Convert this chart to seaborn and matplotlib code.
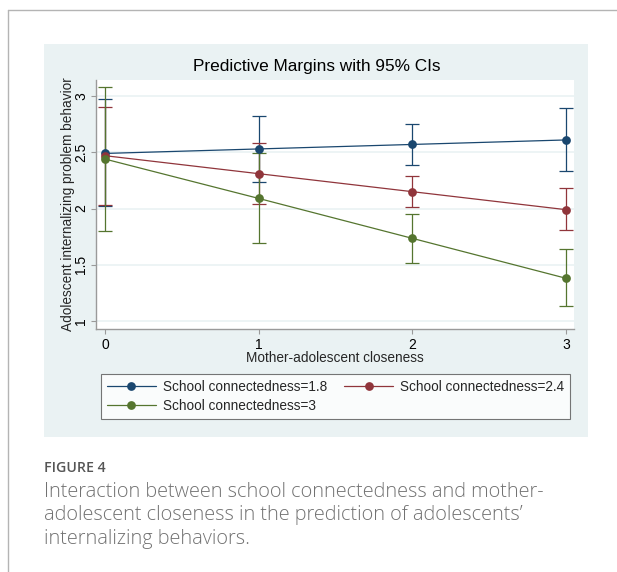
"""
Predictive margins plot (Stata-style) of adolescent internalizing
problem behavior by mother-adolescent closeness, for three levels
of school connectedness, with 95% confidence intervals.
"""
import pandas as pd
import seaborn as sns
import matplotlib.pyplot as plt
from matplotlib.lines import Line2D
from matplotlib.patches import Rectangle

# values
closeness = [0, 1, 2, 3]
groups = ['School connectedness=1.8', 'School connectedness=2.4',
          'School connectedness=3']
margin_18 = [2.49, 2.53, 2.57, 2.61]
lower_18 = [2.02, 2.24, 2.39, 2.33]
upper_18 = [2.97, 2.82, 2.75, 2.89]
margin_24 = [2.47, 2.31, 2.15, 1.99]
lower_24 = [2.03, 2.04, 2.01, 1.81]
upper_24 = [2.90, 2.58, 2.29, 2.18]
margin_30 = [2.44, 2.09, 1.735, 1.38]
lower_30 = [1.80, 1.69, 1.52, 1.13]
upper_30 = [3.08, 2.49, 1.95, 1.64]
y_ticks = [1, 1.5, 2, 2.5, 3]
y_tick_labels = ['1', '1.5', '2', '2.5', '3']
colors = ['#1a476f', '#90353b', '#55752f']

W, H = 617, 572
PANEL = '#eaf2f3'


def fx(px):
    return px / W


def fy(py):
    return 1 - py / H


def make_frame():
    rows = []
    series = [(margin_18, lower_18, upper_18),
              (margin_24, lower_24, upper_24),
              (margin_30, lower_30, upper_30)]
    for name, (m, lo, hi) in zip(groups, series):
        for x, a, b, c in zip(closeness, m, lo, hi):
            rows.append({'closeness': x, 'margin': a, 'lower': b,
                         'upper': c, 'group': name})
    return pd.DataFrame(rows)


def main():
    sns.set_style('white')
    plt.rcParams['font.family'] = ['Liberation Sans', 'DejaVu Sans']
    df = make_frame()

    fig = plt.figure(figsize=(W / 100, H / 100), dpi=100)
    fig.patch.set_facecolor('white')

    # page frame lines and graph region
    fig.add_artist(Line2D([fx(8), 1], [fy(10), fy(10)], color='#b4b4b4',
                          lw=1))
    fig.add_artist(Line2D([fx(8), fx(8)], [0, fy(10)], color='#b4b4b4',
                          lw=1))
    fig.add_artist(Rectangle((fx(44), fy(437)), fx(544), 393 / H,
                             facecolor=PANEL, edgecolor='none', zorder=0))

    ax = fig.add_axes([fx(96), fy(329), fx(574 - 96), (329 - 80) / H])
    ax.set_facecolor('white')

    # confidence intervals first, then the connected lines on top
    for name, color in zip(groups, colors):
        sub = df[df['group'] == name]
        ax.errorbar(sub['closeness'], sub['margin'],
                    yerr=[sub['margin'] - sub['lower'],
                          sub['upper'] - sub['margin']],
                    fmt='none', ecolor=color, elinewidth=0.9,
                    capsize=5, capthick=0.9, zorder=3)
    sns.lineplot(data=df, x='closeness', y='margin', hue='group',
                 palette=colors, marker='o', markersize=6.3,
                 markeredgewidth=0, linewidth=0.9, errorbar=None,
                 legend=False, ax=ax, zorder=4)

    ax.set_xlim(-0.0586, 3.052)
    ax.set_ylim(0.929, 3.143)
    ax.set_xticks(closeness)
    ax.set_xticklabels([str(x) for x in closeness])
    ax.set_yticks(y_ticks)
    ax.set_yticklabels(y_tick_labels, rotation=90, va='center')
    ax.yaxis.grid(True, color=PANEL, lw=1.2)
    ax.set_axisbelow(True)
    for side in ['top', 'right']:
        ax.spines[side].set_visible(False)
    for side in ['left', 'bottom']:
        ax.spines[side].set_color('#9a9a9a')
        ax.spines[side].set_linewidth(1)
    ax.tick_params(axis='both', length=3.6, width=0.8, color='#9a9a9a',
                   labelsize=10, labelcolor='black', left=True,
                   bottom=True)
    ax.tick_params(axis='y', pad=2)
    ax.tick_params(axis='x', pad=3)

    ax.set_xlabel('Mother-adolescent closeness', fontsize=9.8)
    ax.xaxis.set_label_coords(0.5, -0.118)
    ax.xaxis.label.set_va('center')
    ax.set_ylabel('Adolescent internalizing problem behavior', fontsize=9.8)
    ax.yaxis.set_label_coords(-0.059, 0.5)
    ax.yaxis.label.set_va('center')

    fig.text(fx(316.5), fy(66), 'Predictive Margins with 95% CIs',
             ha='center', va='center', fontsize=12.4, color='black')

    # column-major fill, so order the entries to read row by row
    order = [0, 2, 1]
    handles = [Line2D([], [], color=colors[i], lw=0.9, marker='o',
                      markersize=6.3, markeredgewidth=0) for i in order]
    leg = fig.legend(handles, [groups[i] for i in order], loc='upper left',
                     bbox_to_anchor=(fx(101), fy(374)), ncol=2,
                     fontsize=9.8, frameon=True, fancybox=False,
                     handlelength=3.6, handletextpad=0.5,
                     columnspacing=1.29, borderpad=0.42,
                     labelspacing=0.4, borderaxespad=0)
    leg.get_frame().set_edgecolor('#555555')
    leg.get_frame().set_linewidth(0.8)

    cap = ['Open Sans', 'DejaVu Sans']
    fig.text(fx(44), fy(467.7), 'FIGURE 4', ha='left', va='center',
             fontsize=10.2, fontweight='semibold', color='#555555',
             family=cap)
    lines = ['Interaction between school connectedness and mother-',
             'adolescent closeness in the prediction of adolescents\u2019',
             'internalizing behaviors.']
    for i, line in enumerate(lines):
        fig.text(fx(44), fy(491.7 + 23.6 * i), line, ha='left',
                 va='center', fontsize=14.3, fontweight='light',
                 color='#727272', family=cap)

    fig.savefig('out.png', dpi=100)


if __name__ == '__main__':
    main()
